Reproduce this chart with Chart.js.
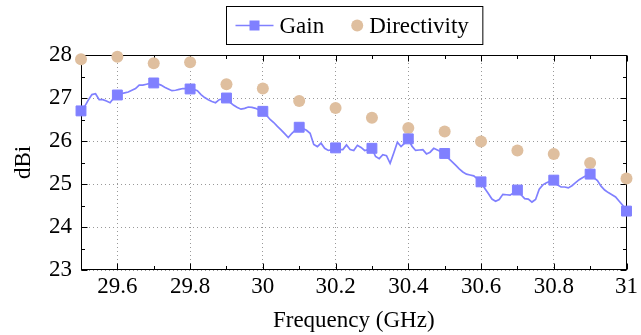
<!DOCTYPE html>
<html>
<head>
<meta charset="utf-8">
<script src="https://cdn.jsdelivr.net/npm/chart.js@4.4.1/dist/chart.umd.min.js"></script>
<style>
    html, body { margin: 0; padding: 0; background: #fff; }
</style>
</head>
<body>
<canvas id="gainChart" width="641" height="335"></canvas>
<script>
// gain is sampled every 10 MHz from 29.5 GHz, markers on every 10th sample
const gainStartGHz = 29.5;
const gainStepGHz = 0.01;
const gainDBi = [
    26.70, 26.80, 26.95, 27.08, 27.10, 26.96, 26.96, 26.93, 26.89, 27.00,
    27.07, 27.10, 27.12, 27.14, 27.18, 27.22, 27.30, 27.30, 27.32, 27.34,
    27.35, 27.33, 27.30, 27.25, 27.21, 27.17, 27.18, 27.20, 27.22, 27.22,
    27.21, 27.20, 27.17, 27.08, 27.01, 26.96, 26.92, 26.89, 26.96, 26.98,
    27.00, 26.90, 26.83, 26.78, 26.74, 26.76, 26.79, 26.78, 26.76, 26.72,
    26.69, 26.60, 26.50, 26.43, 26.34, 26.26, 26.17, 26.08, 26.18, 26.26,
    26.32, 26.29, 26.25, 26.18, 25.92, 25.87, 25.95, 25.83, 25.78, 25.80,
    25.84, 25.80, 25.80, 25.91, 25.80, 25.78, 25.90, 25.85, 25.78, 25.80,
    25.83, 25.64, 25.59, 25.68, 25.66, 25.48, 25.72, 25.97, 25.87, 25.95,
    26.05, 25.88, 25.78, 25.79, 25.80, 25.70, 25.74, 25.83, 25.79, 25.75,
    25.71, 25.60, 25.52, 25.44, 25.35, 25.28, 25.23, 25.21, 25.19, 25.12,
    25.05, 24.90, 24.78, 24.65, 24.60, 24.64, 24.76, 24.75, 24.74, 24.80,
    24.86, 24.75, 24.66, 24.65, 24.58, 24.64, 24.88, 24.98, 25.03, 25.06,
    25.09, 24.98, 24.93, 24.93, 24.91, 24.96, 25.03, 25.10, 25.15, 25.20,
    25.23, 25.15, 25.08, 24.95, 24.86, 24.80, 24.75, 24.70, 24.60, 24.50,
    24.37
];

const directivityFreqGHz = [29.5, 29.6, 29.7, 29.8, 29.9, 30.0, 30.1, 30.2, 30.3, 30.4, 30.5, 30.6, 30.7, 30.8, 30.9, 31.0];
const directivityDBi = [27.90, 27.96, 27.81, 27.83, 27.32, 27.22, 26.93, 26.77, 26.54, 26.30, 26.22, 25.99, 25.78, 25.70, 25.49, 25.13];

const xTickValues = [29.6, 29.8, 30, 30.2, 30.4, 30.6, 30.8, 31];
const xMinorTicks = [29.5, 29.7, 29.9, 30.1, 30.3, 30.5, 30.7, 30.9];
const yTickValues = [23, 24, 25, 26, 27, 28];
const yMinorTicks = [23.5, 24.5, 25.5, 26.5, 27.5];

document.addEventListener('DOMContentLoaded', function() {
    const gainColor = 'rgb(128, 128, 255)';
    const dirColor = 'rgb(223, 191, 159)';
    const fontFamily = '"Liberation Serif", "Times New Roman", serif';
    const fontSize = 23;

    Chart.defaults.font.family = fontFamily;
    Chart.defaults.font.size = fontSize;
    Chart.defaults.color = '#000';

    const gainPoints = gainDBi.map((v, i) => ({ x: +(gainStartGHz + i * gainStepGHz).toFixed(2), y: v }));
    const dirPoints = directivityFreqGHz.map((f, i) => ({ x: f, y: directivityDBi[i] }));

    // pgfplots-like box with inward ticks on all sides
    const framePlugin = {
        id: 'frame',
        beforeDatasetsDraw(chart) {
            const { ctx, chartArea: a, scales: { x, y } } = chart;
            const L = Math.round(a.left) + 0.5, R = Math.round(a.right) - 0.5;
            const T = Math.round(a.top) + 0.5, B = Math.round(a.bottom) - 0.5;
            ctx.save();
            ctx.strokeStyle = '#000';
            ctx.lineWidth = 1;
            ctx.beginPath();
            function xt(v, len) {
                const p = Math.round(x.getPixelForValue(v)) + 0.5;
                ctx.moveTo(p, B); ctx.lineTo(p, B - len);
                ctx.moveTo(p, T); ctx.lineTo(p, T + len);
            }
            function yt(v, len) {
                const p = Math.round(y.getPixelForValue(v)) + 0.5;
                ctx.moveTo(L, p); ctx.lineTo(L + len, p);
                ctx.moveTo(R, p); ctx.lineTo(R - len, p);
            }
            xTickValues.forEach(v => xt(v, 6));
            xMinorTicks.forEach(v => xt(v, 3.5));
            yTickValues.forEach(v => yt(v, 6));
            yMinorTicks.forEach(v => yt(v, 3.5));
            ctx.stroke();
            ctx.strokeRect(L, T, R - L, B - T);
            ctx.restore();
        }
    };

    const legendPlugin = {
        id: 'boxLegend',
        afterDraw(chart) {
            const { ctx, chartArea: a } = chart;
            const sets = chart.data.datasets;
            ctx.save();
            ctx.font = fontSize + 'px ' + fontFamily;
            const wGain = ctx.measureText(sets[0].label).width;
            const wDir = ctx.measureText(sets[1].label).width;
            const boxW = 9 + 38 + 6 + wGain + 27 + 12 + 6 + wDir + 14;
            const boxH = 38;
            const left = Math.round((a.left + a.right) / 2 - boxW / 2) + 0.5;
            const top = 6.5;
            ctx.fillStyle = '#fff';
            ctx.fillRect(left, top, boxW, boxH);
            ctx.strokeStyle = '#000';
            ctx.lineWidth = 1;
            ctx.strokeRect(left, top, boxW, boxH);
            const cy = top + boxH / 2;
            let cx = left + 9;
            ctx.strokeStyle = gainColor;
            ctx.lineWidth = 1.6;
            ctx.beginPath();
            ctx.moveTo(cx, cy);
            ctx.lineTo(cx + 38, cy);
            ctx.stroke();
            ctx.fillStyle = gainColor;
            ctx.fillRect(cx + 19 - 5, cy - 5, 10, 10);
            cx += 38 + 6;
            ctx.fillStyle = '#000';
            ctx.textBaseline = 'middle';
            ctx.fillText(sets[0].label, cx, cy + 1);
            cx += wGain + 27;
            ctx.fillStyle = dirColor;
            ctx.beginPath();
            ctx.arc(cx + 6, cy, 6, 0, Math.PI * 2);
            ctx.fill();
            cx += 12 + 6;
            ctx.fillStyle = '#000';
            ctx.fillText(sets[1].label, cx, cy + 1);
            ctx.restore();
        }
    };

    var ctx = document.getElementById('gainChart').getContext('2d');
    var gainChart = new Chart(ctx, {
        type: 'line',
        data: {
            datasets: [{
                label: 'Gain',
                data: gainPoints,
                borderColor: gainColor,
                backgroundColor: gainColor,
                borderWidth: 1.7,
                pointStyle: 'rect',
                pointRadius: c => (c.dataIndex % 10 === 0 ? 7 : 0),
                pointBorderWidth: 1,
                pointBorderColor: gainColor,
                pointBackgroundColor: gainColor,
                tension: 0,
                clip: false
            }, {
                label: 'Directivity',
                data: dirPoints,
                showLine: false,
                pointStyle: 'circle',
                pointRadius: 6,
                pointBorderWidth: 0,
                pointBackgroundColor: dirColor,
                borderColor: dirColor,
                backgroundColor: dirColor,
                clip: false
            }]
        },
        options: {
            responsive: false,
            animation: false,
            events: [],
            layout: { padding: { top: 55, right: 11, left: 0, bottom: 0 } },
            plugins: {
                legend: { display: false },
                tooltip: { enabled: false }
            },
            scales: {
                x: {
                    type: 'linear',
                    min: 29.5,
                    max: 31,
                    afterBuildTicks: s => { s.ticks = xTickValues.map(v => ({ value: v })); },
                    afterFit: s => { s.height = 65; },
                    ticks: { padding: 3, maxRotation: 0, autoSkip: false, callback: v => String(v) },
                    grid: { drawTicks: false, color: '#999' },
                    border: { display: false, dash: [1, 3] },
                    title: { display: true, text: 'Frequency (GHz)', padding: { top: 0, bottom: 0 } }
                },
                y: {
                    min: 23,
                    max: 28,
                    afterBuildTicks: s => { s.ticks = yTickValues.map(v => ({ value: v })); },
                    afterFit: s => { s.width = 81; },
                    ticks: { padding: 9, callback: v => String(v) },
                    grid: { drawTicks: false, color: '#999' },
                    border: { display: false, dash: [1, 3] },
                    title: { display: true, text: 'dBi', padding: { top: 10, bottom: 0 } }
                }
            }
        },
        plugins: [framePlugin, legendPlugin]
    });
});
</script>
</body>
</html>
